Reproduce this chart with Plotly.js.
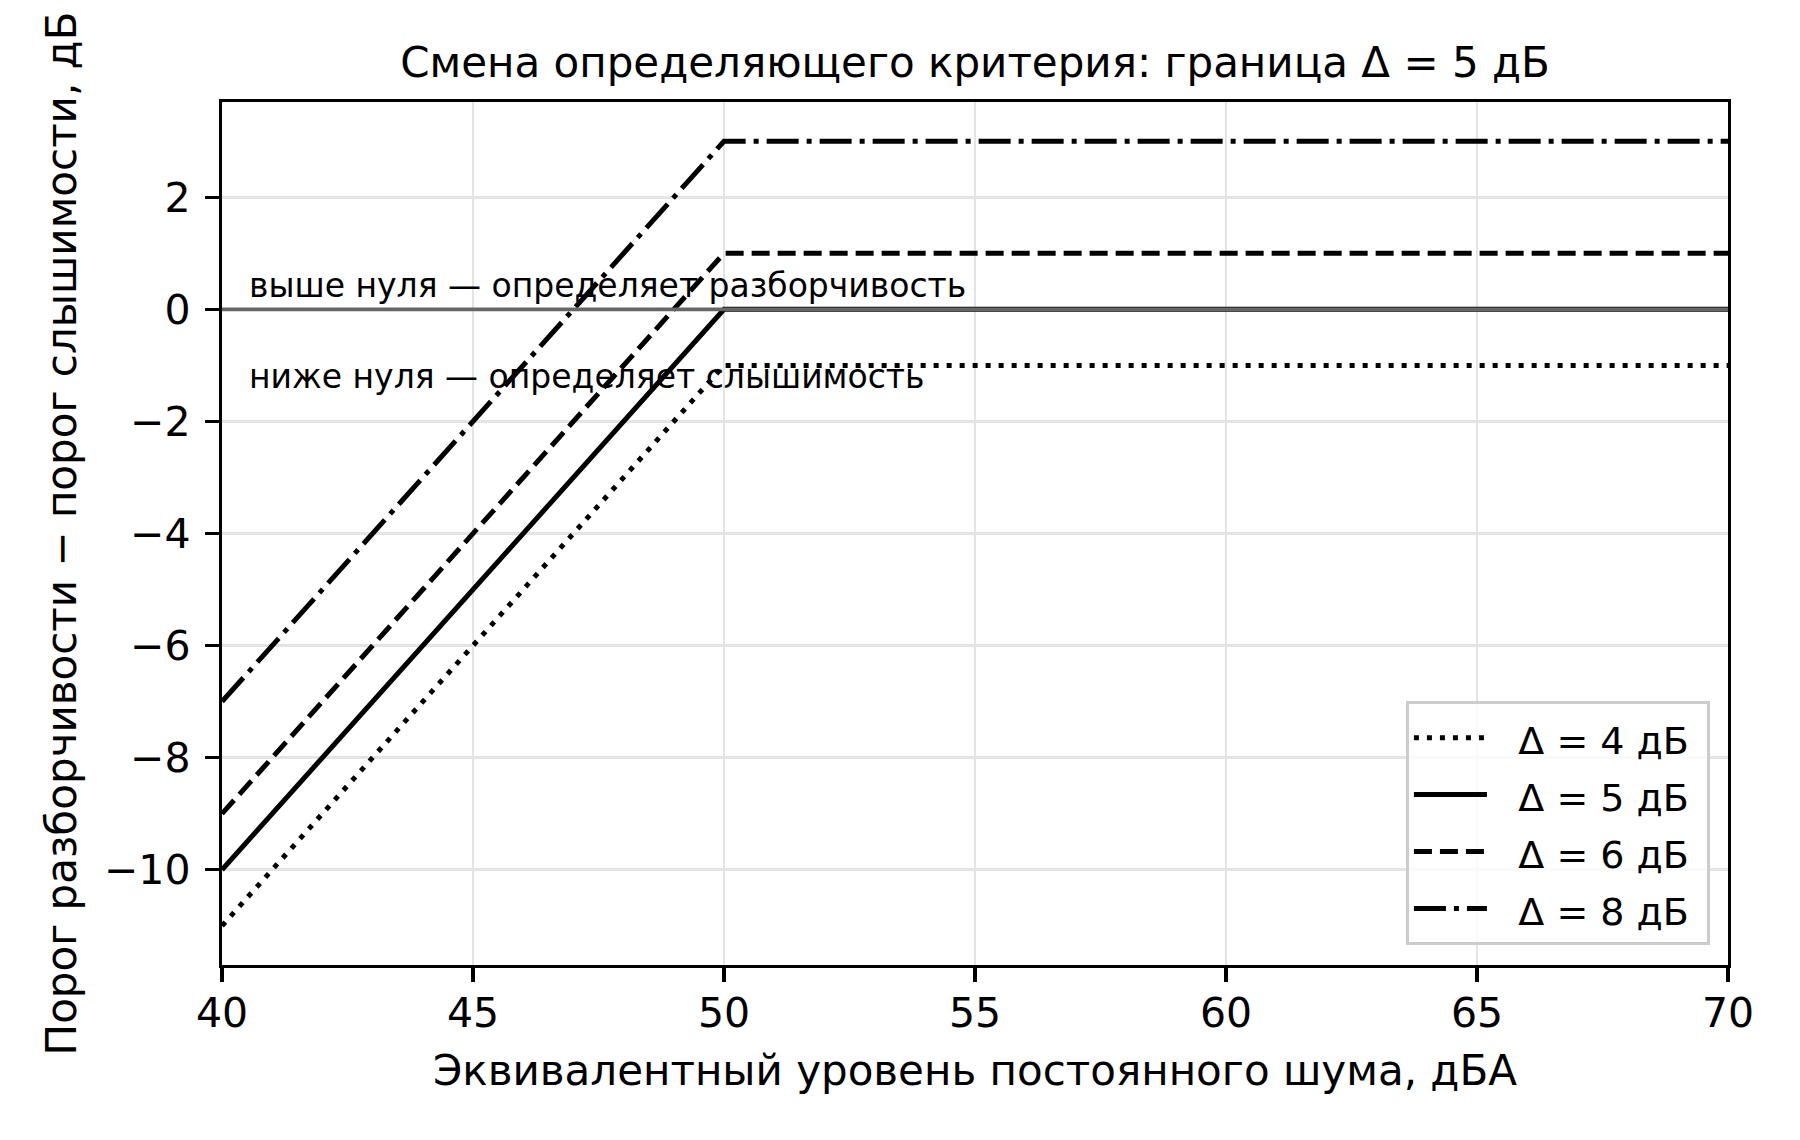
<!DOCTYPE html>
<html>
<head>
<meta charset="utf-8">
<script src="https://cdn.plot.ly/plotly-3.0.1.min.js"></script>
<style>
  html, body { margin: 0; padding: 0; background: #fff; }
  #chart { width: 1800px; height: 1140px; }
</style>
</head>
<body>
<div id="chart"></div>
<script>
/* Смена определяющего критерия: граница Δ = 5 дБ */

// Данные: уровень шума (дБА) и разность порогов для каждого Δ
const noiseLevels = [40, 50, 70];
const deltaLabels = ['Δ = 4 дБ', 'Δ = 5 дБ', 'Δ = 6 дБ', 'Δ = 8 дБ'];
const diffDelta4 = [-11, -1, -1];
const diffDelta5 = [-10, 0, 0];
const diffDelta6 = [-9, 1, 1];
const diffDelta8 = [-7, 3, 3];

const xTicks = [40, 45, 50, 55, 60, 65, 70];
const yTicks = [-10, -8, -6, -4, -2, 0, 2];

const FONT = 'DejaVu Sans, Liberation Sans, sans-serif';
const LW = 5;
const NBSP = '\u00a0';

// стили линий как у matplotlib (dotted, solid, dashed, dashdot)
const dashes = [
  '5px,8px',
  'solid',
  '18px,8px',
  '32px,8px,5px,8px'
];

// шрифт легенды крупнее (шаг строк), сама подпись — 38px
function legendName(label) {
  return NBSP + NBSP + '<span style="font-size:38px">' + label + NBSP + '</span>';
}

function lineTrace(y, name, dash) {
  return {
    type: 'scatter', mode: 'lines',
    x: noiseLevels, y,
    name: legendName(name),
    line: { color: '#000', width: LW, dash },
    hoverinfo: 'skip'
  };
}

const series = [diffDelta4, diffDelta5, diffDelta6, diffDelta8];
const data = series.map((s, i) => lineTrace(s, deltaLabels[i], dashes[i]));

const axisCommon = {
  showline: true, mirror: true, linecolor: '#000', linewidth: 3.3,
  ticks: 'outside', ticklen: 14, tickwidth: 3.3, tickcolor: '#000',
  showgrid: true, gridcolor: '#e4e4e4', gridwidth: 2.7,
  zeroline: false,
  tickfont: { family: FONT, size: 41, color: '#000' }
};

const layout = {
  width: 1800, height: 1140,
  paper_bgcolor: '#fff', plot_bgcolor: '#fff',
  margin: { l: 222, r: 72, t: 102, b: 175 },
  font: { family: FONT, color: '#000' },
  title: {
    text: 'Смена определяющего критерия: граница Δ = 5 дБ',
    font: { family: FONT, size: 42, color: '#000' },
    x: 975 / 1800, xanchor: 'center',
    y: 1 - 62 / 1140, yanchor: 'middle'
  },
  xaxis: Object.assign({}, axisCommon, {
    range: [40, 70],
    tickvals: xTicks,
    ticktext: xTicks.map(String),
    ticklabelstandoff: -5,
    title: {
      text: 'Эквивалентный уровень постоянного шума, дБА',
      font: { family: FONT, size: 42, color: '#000' },
      standoff: 21
    }
  }),
  yaxis: Object.assign({}, axisCommon, {
    range: [-11.7, 3.7],
    tickvals: yTicks,
    ticklabelstandoff: 6,
    title: {
      text: 'Порог разборчивости − порог слышимости, дБ',
      font: { family: FONT, size: 42, color: '#000' },
      standoff: 15
    }
  }),
  showlegend: true,
  legend: {
    x: 0.988, y: 0.023, xanchor: 'right', yanchor: 'bottom',
    bgcolor: 'rgba(255,255,255,0.8)', bordercolor: '#cccccc', borderwidth: 3,
    font: { family: FONT, size: 41.5, color: '#000' },
    itemwidth: 73
  },
  // нулевая линия поверх кривых
  shapes: [{
    type: 'line', xref: 'paper', x0: 0, x1: 1, yref: 'y', y0: 0, y1: 0,
    line: { color: '#666666', width: 3.7 }, layer: 'above'
  }],
  annotations: [
    {
      x: 40.5, y: 0.43, xref: 'x', yref: 'y', xanchor: 'left', yanchor: 'middle',
      text: 'выше нуля — определяет разборчивость', showarrow: false,
      font: { family: FONT, size: 33, color: '#000' }
    },
    {
      x: 40.5, y: -1.19, xref: 'x', yref: 'y', xanchor: 'left', yanchor: 'middle',
      text: 'ниже нуля — определяет слышимость', showarrow: false,
      font: { family: FONT, size: 33, color: '#000' }
    }
  ]
};

Plotly.newPlot('chart', data, layout, { displayModeBar: false, staticPlot: true });
</script>
</body>
</html>
